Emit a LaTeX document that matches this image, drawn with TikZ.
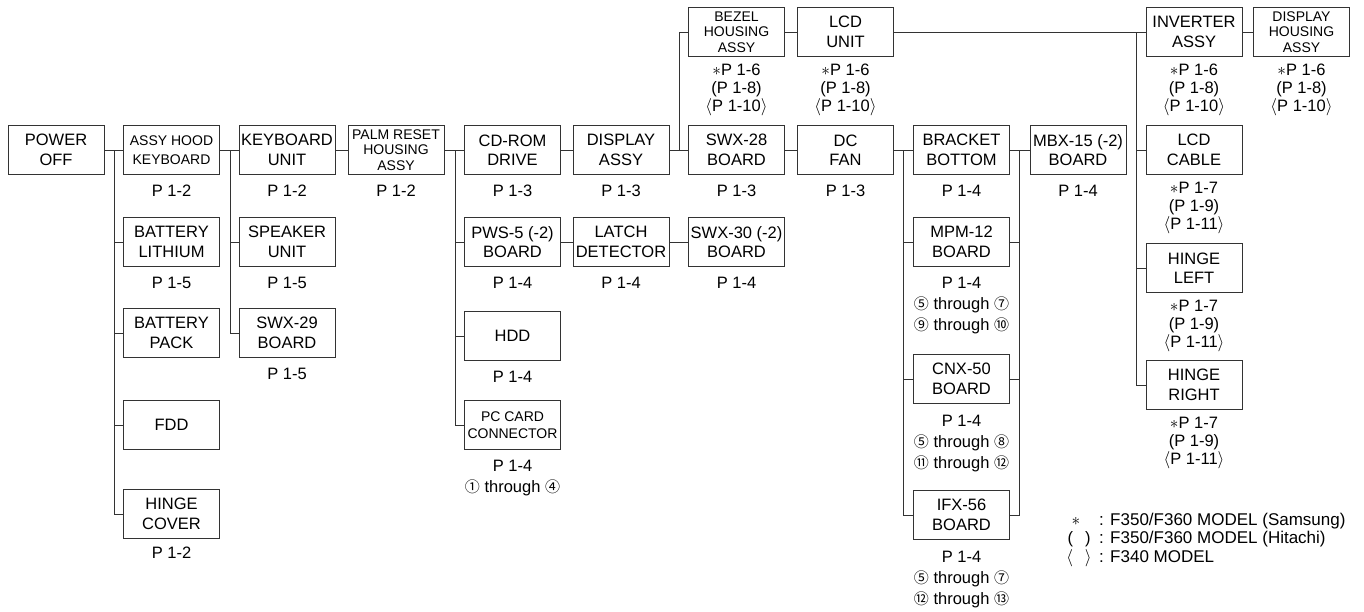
\documentclass[tikz,border=0pt]{standalone}
\usepackage{fontspec}
\setmainfont{Liberation Sans}
\newfontfamily\symfont{Noto Sans CJK JP}
\usepackage{tikz}
\newcommand{\cnum}[1]{{\symfont\fontsize{15}{15}\selectfont #1}}
\newcommand{\sast}{$\ast$}

\begin{document}
\begin{tikzpicture}[x=1pt, y=-1pt,
    box/.style={draw=black!80, line width=1pt, minimum width=96pt, minimum height=49pt,
      inner sep=0pt, align=center, font=\fontsize{16.5}{19.5}\selectfont},
    tight/.style={font=\fontsize{14}{15.5}\selectfont},
    pg/.style={inner sep=0pt, align=center, anchor=base, font=\fontsize{16.5}{18}\selectfont},
    pgs/.style={pg, anchor=north},
    pgc/.style={pg, anchor=north, font=\fontsize{16.5}{20.8}\selectfont},
    wire/.style={draw=black!80, line width=1pt}]
    \useasboundingbox (0,0) rectangle (1364,611);

    % boxes
    \node[box] (power) at (56,150) {POWER\\OFF};
    \node[box, font=\fontsize{14}{18.5}\selectfont] (hood) at (171.5,150) {ASSY HOOD\\KEYBOARD};
    \node[box] (lithium) at (171.5,242) {BATTERY\\LITHIUM};
    \node[box] (pack) at (171.5,333) {BATTERY\\PACK};
    \node[box] (fdd) at (171.5,425) {FDD};
    \node[box] (hcover) at (171.5,514) {HINGE\\COVER};
    \node[box] (kbd) at (287,150) {KEYBOARD\\UNIT};
    \node[box] (speaker) at (287,242) {SPEAKER\\UNIT};
    \node[box] (swx29) at (287,333) {SWX-29\\BOARD};
    \node[box, tight] (palm) at (396,150) {PALM RESET\\HOUSING\\ASSY};
    \node[box] (cdrom) at (512.5,150) {CD-ROM\\DRIVE};
    \node[box] (pws) at (512.5,242) {PWS-5 (-2)\\BOARD};
    \node[box] (hdd) at (512.5,336) {HDD};
    \node[box, font=\fontsize{14}{17}\selectfont] (pccard) at (512.5,425) {PC CARD\\CONNECTOR};
    \node[box] (disp) at (621,150) {DISPLAY\\ASSY};
    \node[box] (latch) at (621,242) {LATCH\\DETECTOR};
    \node[box, tight] (bezel) at (736.5,32) {BEZEL\\HOUSING\\ASSY};
    \node[box] (swx28) at (736.5,150) {SWX-28\\BOARD};
    \node[box] (swx30) at (736.5,242) {SWX-30 (-2)\\BOARD};
    \node[box] (lcdunit) at (845.5,32) {LCD\\UNIT};
    \node[box] (fan) at (845.5,150) {DC\\FAN};
    \node[box] (bracket) at (961.5,150) {BRACKET\\BOTTOM};
    \node[box] (mpm) at (961.5,242) {MPM-12\\BOARD};
    \node[box] (cnx) at (961.5,379) {CNX-50\\BOARD};
    \node[box] (ifx) at (961.5,515) {IFX-56\\BOARD};
    \node[box] (mbx) at (1078,150) {MBX-15 (-2)\\BOARD};
    \node[box] (inverter) at (1194,32) {INVERTER\\ASSY};
    \node[box, tight] (dhousing) at (1301.5,32) {DISPLAY\\HOUSING\\ASSY};
    \node[box] (lcdcable) at (1194,150) {LCD\\CABLE};
    \node[box] (hingel) at (1194,268) {HINGE\\LEFT};
    \node[box] (hinger) at (1194,385) {HINGE\\RIGHT};

    % bus lines
    \coordinate (b1) at (114,150);
    \coordinate (b2) at (230,150);
    \coordinate (b3) at (455,150);
    \coordinate (b4) at (679,150);
    \coordinate (b5) at (1136,32);
    \coordinate (b6) at (903,150);
    \coordinate (b7) at (1019,150);

    \draw[wire] (power) -- (hood);
    \draw[wire] (b1) |- (hcover.west);
    \foreach \n in {lithium,pack,fdd} \draw[wire] (\n.west) -- (\n.west -| b1);
    \draw[wire] (hood) -- (kbd);
    \draw[wire] (b2) |- (swx29.west);
    \draw[wire] (speaker.west) -- (speaker.west -| b2);
    \draw[wire] (kbd) -- (palm);
    \draw[wire] (palm) -- (cdrom);
    \draw[wire] (b3) |- (pccard.west);
    \foreach \n in {pws,hdd} \draw[wire] (\n.west) -- (\n.west -| b3);
    \draw[wire] (cdrom) -- (disp);
    \draw[wire] (pws) -- (latch);
    \draw[wire] (latch) -- (swx30);
    \draw[wire] (disp) -- (swx28);
    \draw[wire] (b4) |- (bezel.west);
    \draw[wire] (bezel) -- (lcdunit);
    \draw[wire] (swx28) -- (fan);
    \draw[wire] (lcdunit) -- (inverter);
    \draw[wire] (b5) |- (hinger.west);
    \foreach \n in {lcdcable,hingel} \draw[wire] (\n.west) -- (\n.west -| b5);
    \draw[wire] (inverter) -- (dhousing);
    \draw[wire] (fan) -- (bracket);
    \draw[wire] (b6) |- (ifx.west);
    \foreach \n in {mpm,cnx} \draw[wire] (\n.west) -- (\n.west -| b6);
    \draw[wire] (bracket) -- (mbx);
    \draw[wire] (b7) |- (ifx.east);
    \foreach \n in {mpm,cnx} \draw[wire] (\n.east) -- (\n.east -| b7);

    % page references
    \foreach \n/\t in {hood/2,kbd/2,palm/2,lithium/5,speaker/5,swx29/5,cdrom/3,disp/3,
        swx28/3,fan/3,pws/4,latch/4,swx30/4,hdd/4,bracket/4,mbx/4}
      \node[pg] (\n-p) at ([yshift=-21pt]\n.south) {P 1-\t};
    \node[pg] (hcover-p) at ([yshift=-19pt]hcover.south) {P 1-2};
    \foreach \n in {bezel,lcdunit,inverter,dhousing}
      \node[pgs] (\n-p) at ([yshift=-7pt]\n.south) {\sast P 1-6\\(P 1-8)\\$\langle$P 1-10$\rangle$};
    \foreach \n in {lcdcable,hingel,hinger}
      \node[pgs] (\n-p) at ([yshift=-7pt]\n.south) {\sast P 1-7\\(P 1-9)\\$\langle$P 1-11$\rangle$};
    \node[pgc] (pccard-p) at ([yshift=-10pt]pccard.south) {P 1-4\\\cnum{①} through \cnum{④}};
    \node[pgc] (mpm-p) at ([yshift=-10pt]mpm.south) {P 1-4\\\cnum{⑤} through \cnum{⑦}\\\cnum{⑨} through \cnum{⑩}};
    \node[pgc] (cnx-p) at ([yshift=-11pt]cnx.south) {P 1-4\\\cnum{⑤} through \cnum{⑧}\\\cnum{⑪} through \cnum{⑫}};
    \node[pgc] (ifx-p) at ([yshift=-11pt]ifx.south) {P 1-4\\\cnum{⑤} through \cnum{⑦}\\\cnum{⑫} through \cnum{⑬}};

    % key
    \node[pg, anchor=base] (sym1) at (1076,525) {\sast};
    \node[pg, anchor=base west, font=\fontsize{17}{17}\selectfont] (key1) at (1099,525) {: F350/F360 MODEL (Samsung)};
    \node[pg, anchor=base] (sym2) at (1079,543) {(\hspace{12pt})};
    \node[pg, anchor=base west, font=\fontsize{17}{17}\selectfont] (key2) at (1099,543) {: F350/F360 MODEL (Hitachi)};
    \node[pg, anchor=base] (sym3) at (1079,562) {$\langle$\hspace{12pt}$\rangle$};
    \node[pg, anchor=base west, font=\fontsize{17}{17}\selectfont] (key3) at (1099,562) {: F340 MODEL};
  \end{tikzpicture}
\end{document}
